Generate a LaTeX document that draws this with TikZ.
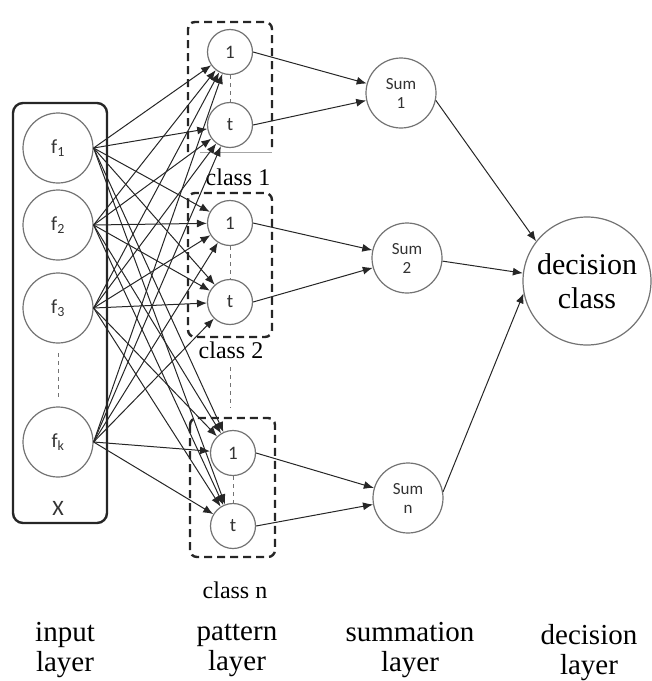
\documentclass[tikz,border=0pt]{standalone}
\usepackage{fontspec}
\setmainfont{Liberation Serif}
\newfontfamily\lblfont{Carlito}
\usetikzlibrary{arrows.meta}
\begin{document}
\begin{tikzpicture}[x=1pt,y=-1pt,
  neuron/.style={circle,draw=black!55,line width=1.2pt,fill=white,inner sep=0pt,
     font=\lblfont\fontsize{20}{21}\selectfont,text=black!80},
  inp/.style={neuron,minimum size=70pt},
  pat/.style={neuron,minimum size=45pt,font=\lblfont\fontsize{19}{20}\selectfont},
  sumn/.style={neuron,minimum size=70pt,align=center,font=\lblfont\fontsize{17}{19}\selectfont},
  dec/.style={neuron,minimum size=128pt,align=center,text=black,font=\fontsize{30}{34}\selectfont},
  conn/.style={draw=black!85,line width=1pt,-{Latex[length=10pt,width=8pt]}},
  classbox/.style={draw=black!85,line width=2.4pt,dash pattern=on 8pt off 5pt,rounded corners=7pt},
  inbox/.style={draw=black!85,line width=2.4pt,rounded corners=10pt,minimum width=94pt,minimum height=420pt,inner sep=0pt},
  innerdash/.style={draw=black!55,line width=0.9pt,dash pattern=on 4pt off 4pt},
  classlbl/.style={font=\fontsize{24}{26}\selectfont},
  big/.style={font=\fontsize{29}{30}\selectfont,align=center},
]
\useasboundingbox (0,0) rectangle (652,681);

% input layer
\node[inbox] (X) at (60,313) {};
\node[inp] (f1) at (58,148) {f\textsubscript{1}};
\node[inp] (f2) at (58,225) {f\textsubscript{2}};
\node[inp] (f3) at (58,308) {f\textsubscript{3}};
\node[inp] (fk) at (58,442) {f\textsubscript{k}};
\node[font=\lblfont\fontsize{22}{23}\selectfont,text=black!80] (xlab) at (58,508) {X};
\draw[innerdash] (58,353) -- (58,397);

% pattern layer boxes
\draw[classbox] (188,152) -- (188,22) -- (272,22) -- (272,152);
\draw[black!35,line width=0.8pt] (200,152) -- (272,152);
\draw[classbox] (188,193) rectangle (272,337);
\draw[classbox] (190,418) rectangle (275,557);

% pattern nodes
\node[pat] (p11) at (230,52) {1};
\node[pat] (p1t) at (230,125) {t};
\node[pat] (p21) at (230,223) {1};
\node[pat] (p2t) at (230,302) {t};
\node[pat] (pn1) at (233,453) {1};
\node[pat] (pnt) at (233,526) {t};
\draw[innerdash] (p11.south) -- (p1t.north);
\draw[innerdash] (p21.south) -- (p2t.north);
\draw[innerdash] (pn1.south) -- (pnt.north);
\draw[innerdash] (230,367) -- (230,408);

\node[classlbl] (c1) at (238,177) {class 1};
\node[classlbl] (c2) at (231,350) {class 2};
\node[classlbl] (cn) at (235,590) {class n};

% summation layer
\node[sumn] (s1) at (401,93) {Sum\\1};
\node[sumn] (s2) at (407,258) {Sum\\2};
\node[sumn] (sn) at (408,498) {Sum\\n};

% decision
\node[dec] (d) at (587,281) {decision\\class};

% input -> pattern
\foreach \i in {f1,f2,f3,fk}
  \foreach \j in {p11,p1t,p21,p2t,pn1,pnt}
    \draw[conn] (\i.east) -- (\j);

% pattern -> sum
\draw[conn] (p11.east) -- (s1);
\draw[conn] (p1t.east) -- (s1);
\draw[conn] (p21.east) -- (s2);
\draw[conn] (p2t.east) -- (s2);
\draw[conn] (pn1.east) -- (sn);
\draw[conn] (pnt.east) -- (sn);

% sum -> decision
\draw[conn] (s1.-12) -- (d.142);
\draw[conn] (s2.-5) -- (d.173);
\draw[conn] (sn.10) -- (d.191);

% layer labels
\node[big] (l1) at (65,650) {input\\layer};
\node[big] (l2) at (237,650) {pattern\\layer};
\node[big] (l3) at (410,650) {summation\\layer};
\node[big] (l4) at (589,653) {decision\\layer};
\end{tikzpicture}
\end{document}
